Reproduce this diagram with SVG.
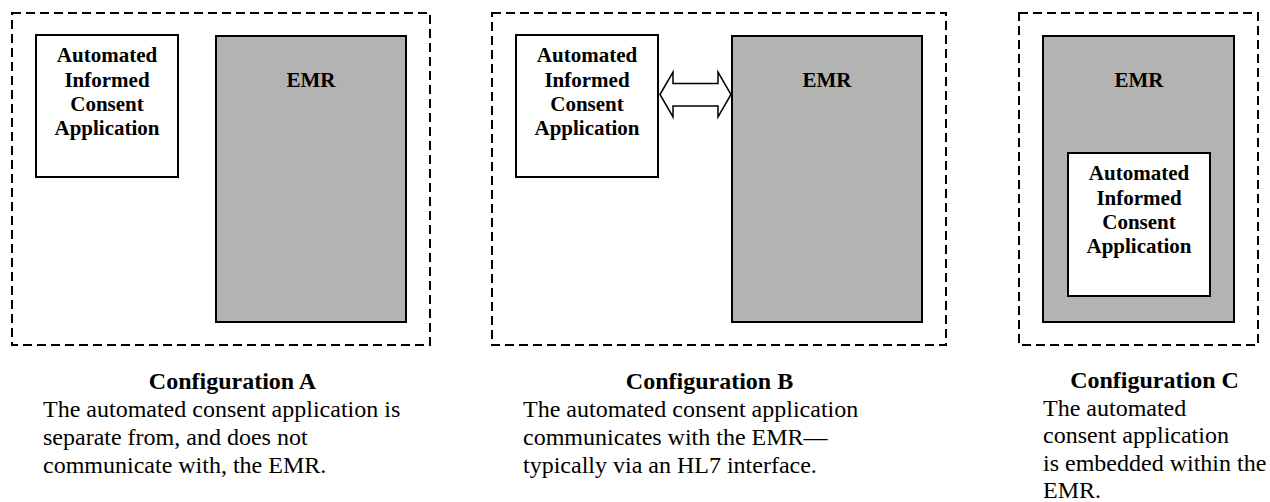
<svg xmlns="http://www.w3.org/2000/svg" width="1270" height="502" viewBox="0 0 1270 502">
<style>
.frame{fill:none;stroke:#000;stroke-width:2;stroke-dasharray:9,5}
.emr{fill:#b3b3b3;stroke:#000;stroke-width:2}
.app{fill:#fff;stroke:#000;stroke-width:2}
.lbl{font-weight:bold;font-size:21px;fill:#000;text-anchor:middle}
.cap{font-weight:bold;font-size:24px;fill:#000;text-anchor:middle}
.body{font-size:24px;fill:#000}
.arrow{fill:#fff;stroke:#000;stroke-width:1.5;stroke-linejoin:miter}
</style>
<rect width="1270" height="502" fill="#fff"/>
<g font-family="'Liberation Serif', 'Times New Roman', Times, serif">
<g id="configA">
  <rect class="frame" x="12" y="13" width="418" height="332"/>
  <g id="appA">
    <rect class="app" x="36" y="35" width="142" height="142"/>
    <text class="lbl" x="107" y="62">Automated</text>
    <text class="lbl" x="107" y="86.5">Informed</text>
    <text class="lbl" x="107" y="111">Consent</text>
    <text class="lbl" x="107" y="135">Application</text>
  </g>
  <g id="emrA">
    <rect class="emr" x="216" y="36" width="190" height="286"/>
    <text class="lbl" x="311" y="87">EMR</text>
  </g>
  <text class="cap" x="232.5" y="389">Configuration A</text>
  <text class="body" x="43" y="417">The automated consent application is</text>
  <text class="body" x="43" y="445">separate from, and does not</text>
  <text class="body" x="43" y="473">communicate with, the EMR.</text>
</g>

<g id="configB">
  <rect class="frame" x="492" y="13" width="454" height="332"/>
  <g id="appB">
    <rect class="app" x="516" y="35" width="142" height="142"/>
    <text class="lbl" x="587" y="62">Automated</text>
    <text class="lbl" x="587" y="86.5">Informed</text>
    <text class="lbl" x="587" y="111">Consent</text>
    <text class="lbl" x="587" y="135">Application</text>
  </g>
  <g id="emrB">
    <rect class="emr" x="732" y="36" width="190" height="286"/>
    <text class="lbl" x="827" y="87">EMR</text>
  </g>
  <text class="cap" x="709.5" y="389">Configuration B</text>
  <text class="body" x="523" y="417">The automated consent application</text>
  <text class="body" x="523" y="445">communicates with the EMR—</text>
  <text class="body" x="523" y="473">typically via an HL7 interface.</text>
</g>

<g id="connectors">
  <polygon class="arrow" points="660,94.5 673,72 673,83.5 718,83.5 718,72 731,94.5 718,117 718,106 673,106 673,117"/>
</g>

<g id="configC">
  <rect class="frame" x="1019" y="13" width="239" height="332"/>
  <g id="emrC">
    <rect class="emr" x="1043" y="36" width="191" height="286"/>
    <text class="lbl" x="1139" y="87">EMR</text>
  </g>
  <g id="appC">
    <rect class="app" x="1068" y="153" width="142" height="143"/>
    <text class="lbl" x="1139" y="180">Automated</text>
    <text class="lbl" x="1139" y="204.5">Informed</text>
    <text class="lbl" x="1139" y="229">Consent</text>
    <text class="lbl" x="1139" y="253">Application</text>
  </g>
  <text class="cap" x="1154.5" y="388">Configuration C</text>
  <text class="body" x="1043" y="415.5">The automated</text>
  <text class="body" x="1043" y="443">consent application</text>
  <text class="body" x="1043" y="470.5">is embedded within the</text>
  <text class="body" x="1043" y="498">EMR.</text>
</g>
</g>
</svg>
